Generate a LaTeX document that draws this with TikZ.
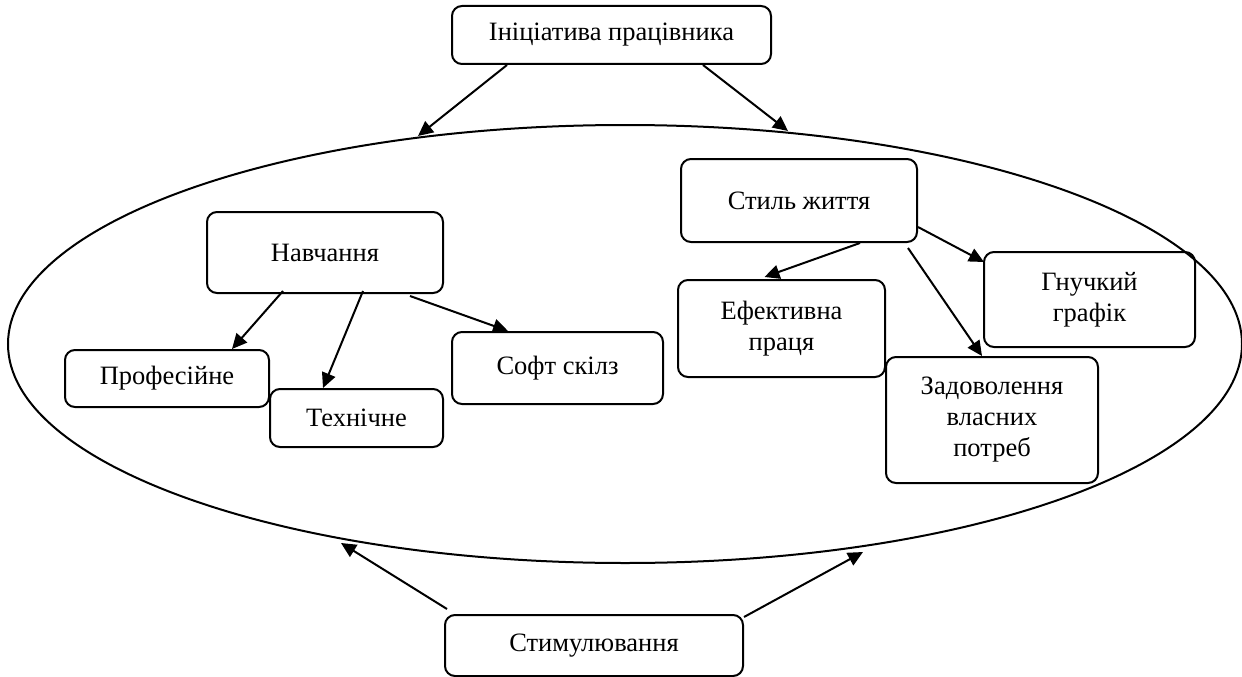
\documentclass[tikz,border=0pt]{standalone}
\usepackage{fontspec}
\setmainfont{Liberation Serif}
\usetikzlibrary{arrows.meta,shapes.geometric}
\begin{document}
\begin{tikzpicture}[x=1pt,y=-1pt,
  box/.style={draw,line width=2pt,rounded corners=10pt,align=center,inner sep=0pt,
    font=\fontsize{26.5}{31}\selectfont},
  arr/.style={line width=2pt,-{Triangle[length=15pt,width=14pt]}},
  oval/.style={draw,line width=2pt,ellipse,inner sep=0pt}]
\useasboundingbox (0,0) rectangle (1242,677);
\node[oval,minimum width=1234pt,minimum height=438pt] (ell) at (625,344) {};
\node[box,minimum width=319pt,minimum height=58pt] (init) at (611.5,35) {Ініціатива працівника};
\node[box,minimum width=236pt,minimum height=81pt] (navch) at (325,252.5) {Навчання};
\node[box,minimum width=204pt,minimum height=57pt] (prof) at (167,378.5) {Професійне};
\node[box,minimum width=173pt,minimum height=58pt] (tech) at (356.5,418) {Технічне};
\node[box,minimum width=211pt,minimum height=72pt] (soft) at (557.5,368) {Софт скілз};
\node[box,minimum width=236pt,minimum height=83pt] (styl) at (799,200.5) {Стиль життя};
\node[box,minimum width=207pt,minimum height=97pt] (efek) at (781.5,328.5) {Ефективна\\праця};
\node[box,minimum width=211pt,minimum height=95pt] (hnuch) at (1089.5,299.5) {Гнучкий\\графік};
\node[box,minimum width=212pt,minimum height=126pt] (zadov) at (992,420) {Задоволення\\власних\\потреб};
\node[box,minimum width=298pt,minimum height=61pt] (stym) at (594,645.5) {Стимулювання};
\coordinate (t1) at (418,136);
\coordinate (t2) at (788,131);
\coordinate (t3) at (341,543);
\coordinate (t4) at (863,552);
\draw[arr] ([xshift=56pt]init.south west) -- (t1);
\draw[arr] ([xshift=-69pt]init.south east) -- (t2);
\draw[arr] ([xshift=3pt,yshift=5pt]stym.north west) -- (t3);
\draw[arr] ([yshift=-3pt]stym.north east) -- (t4);
\draw[arr] ([xshift=-42pt,yshift=3pt]navch.south) -- ([xshift=65pt]prof.north);
\draw[arr] ([xshift=38pt,yshift=3pt]navch.south) -- ([xshift=-33.5pt]tech.north);
\draw[arr] ([xshift=85pt,yshift=-2pt]navch.south) -- ([xshift=-49.5pt]soft.north);
\draw[arr] ([xshift=61pt]styl.south) -- ([xshift=-17pt,yshift=2pt]efek.north);
\draw[arr] ([yshift=-26.5pt]styl.east) -- ([xshift=1pt,yshift=-11pt]hnuch.north west);
\draw[arr] ([xshift=-10pt,yshift=-5pt]styl.south east) -- ([xshift=-10pt]zadov.north);
\end{tikzpicture}
\end{document}
